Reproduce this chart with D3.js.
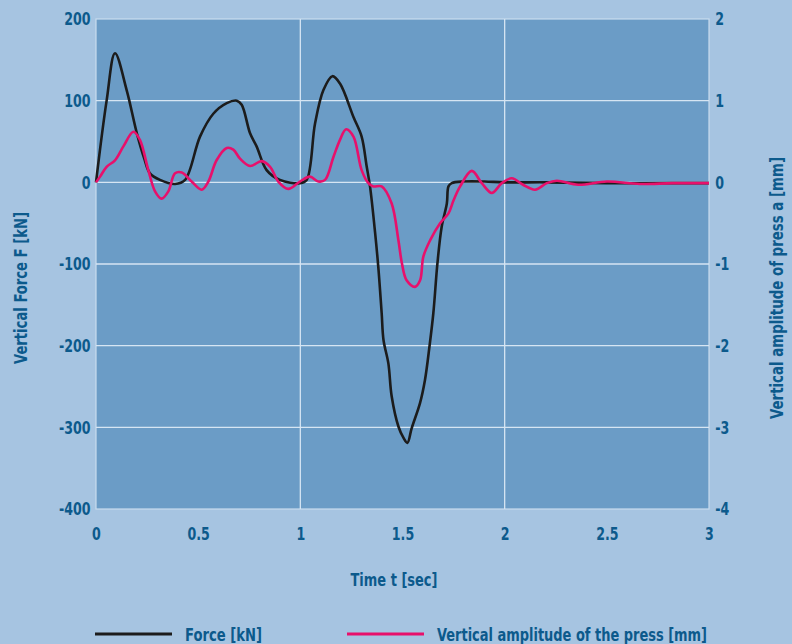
<!DOCTYPE html>
<html>
<head>
<meta charset="utf-8">
<script src="https://cdn.jsdelivr.net/npm/d3@7"></script>
<style>
  body { margin: 0; background: #a6c4e1; }
  svg { display: block; }
  text { font-family: 'Liberation Sans Narrow', 'DejaVu Sans Condensed', sans-serif; font-weight: bold; fill: #0c5a8c; }
</style>
</head>
<body>
<div id="container"></div>
<script>
// time in seconds, force in kN
const forceTime = [0, 0.052, 0.093, 0.15, 0.2, 0.235, 0.264, 0.313, 0.387, 0.436, 0.509, 0.574, 0.64, 0.689, 0.713, 0.754, 0.786, 0.835, 0.9, 0.998, 1.031, 1.072, 1.113, 1.157, 1.194, 1.26, 1.3, 1.325, 1.341, 1.366, 1.382, 1.398, 1.407, 1.431, 1.447, 1.48, 1.505, 1.524, 1.545, 1.586, 1.61, 1.632, 1.651, 1.671, 1.692, 1.717, 1.725, 1.741, 1.8, 1.9, 2.0, 2.2, 2.5, 2.8, 3.0];
const forceValues = [0, 100, 158, 113, 60, 30, 11, 3, -2, 3, 56, 84, 97, 100, 95, 60, 44, 15, 3, -1, 3, 72, 113, 130, 121, 80, 56, 19, -5, -62, -105, -160, -193, -222, -262, -299, -313, -319, -301, -270, -242, -201, -160, -99, -54, -26, -5, -1, 1, 1, 0, 0, -1, -1, -1];

// time in seconds, amplitude in mm
const ampTime = [0, 0.02, 0.052, 0.093, 0.134, 0.183, 0.215, 0.256, 0.289, 0.321, 0.354, 0.387, 0.42, 0.468, 0.517, 0.55, 0.59, 0.64, 0.672, 0.705, 0.754, 0.811, 0.852, 0.892, 0.941, 0.998, 1.047, 1.088, 1.121, 1.162, 1.194, 1.224, 1.26, 1.3, 1.333, 1.357, 1.398, 1.447, 1.48, 1.497, 1.52, 1.561, 1.586, 1.602, 1.635, 1.684, 1.725, 1.75, 1.782, 1.839, 1.888, 1.937, 1.986, 2.035, 2.09, 2.149, 2.206, 2.255, 2.36, 2.5, 2.662, 2.82, 3.0];
const ampValues = [0, 0.07, 0.19, 0.27, 0.44, 0.62, 0.52, 0.15, -0.11, -0.2, -0.11, 0.11, 0.12, 0.01, -0.09, 0.01, 0.27, 0.42, 0.4, 0.29, 0.2, 0.26, 0.19, 0.01, -0.08, 0.01, 0.07, 0.01, 0.03, 0.31, 0.52, 0.65, 0.56, 0.15, -0.01, -0.05, -0.05, -0.26, -0.71, -0.99, -1.2, -1.28, -1.2, -0.91, -0.71, -0.5, -0.38, -0.22, -0.05, 0.14, -0.01, -0.13, -0.01, 0.05, -0.03, -0.09, -0.01, 0.02, -0.03, 0.01, -0.02, -0.01, -0.01];

const timeTicks = [0, 0.5, 1, 1.5, 2, 2.5, 3];
const forceTicks = [200, 100, 0, -100, -200, -300, -400];
const ampTicks = [2, 1, 0, -1, -2, -3, -4];
const timeGrid = [1, 2];

const legendLabels = ['Force [kN]', 'Vertical amplitude of the press [mm]'];
const lineColours = ['#1c1c1c', '#e8106b'];

const W = 792, H = 644;
const margin = { top: 19, right: 83, bottom: 135, left: 96 };
const width = W - margin.left - margin.right;
const height = H - margin.top - margin.bottom;

const x = d3.scaleLinear().domain([0, 3]).range([0, width]);
const yForce = d3.scaleLinear().domain([-400, 200]).range([height, 0]);
const yAmp = d3.scaleLinear().domain([-4, 2]).range([height, 0]);

const svg = d3.select('#container').append('svg')
  .attr('width', W)
  .attr('height', H);

const g = svg.append('g')
  .attr('transform', `translate(${margin.left}, ${margin.top})`);

g.append('rect')
  .attr('width', width)
  .attr('height', height)
  .attr('fill', '#6b9cc6')
  .attr('stroke', '#c9dcee')
  .attr('stroke-width', 1.2);

// grid
g.append('g').selectAll('line')
  .data(forceTicks.slice(1, -1)).enter()
  .append('line')
  .attr('x1', 0).attr('x2', width)
  .attr('y1', (d) => yForce(d)).attr('y2', (d) => yForce(d))
  .attr('stroke', '#d6e5f3')
  .attr('stroke-width', 1.3);

g.append('g').selectAll('line')
  .data(timeGrid).enter()
  .append('line')
  .attr('y1', 0).attr('y2', height)
  .attr('x1', (d) => x(d)).attr('x2', (d) => x(d))
  .attr('stroke', '#d6e5f3')
  .attr('stroke-width', 1.3);

// axes: no domain, no tick marks, narrow bold labels
const styleAxis = (sel) => {
  sel.select('.domain').remove();
  sel.selectAll('.tick line').remove();
  sel.selectAll('.tick text')
    .attr('fill', '#0c5a8c')
    .attr('transform', 'scale(0.78, 1)')
    .style('font-family', "'Liberation Sans Narrow', 'DejaVu Sans Condensed', sans-serif")
    .style('font-weight', 'bold')
    .style('font-size', '18px');
};

g.append('g')
  .attr('transform', `translate(0, ${height})`)
  .call(d3.axisBottom(x).tickValues(timeTicks).tickSize(0).tickPadding(18).tickFormat((d) => String(d)))
  .call(styleAxis);

g.append('g')
  .call(d3.axisLeft(yForce).tickValues(forceTicks).tickSize(0).tickPadding(7).tickFormat((d) => String(d)))
  .call(styleAxis);

g.append('g')
  .attr('transform', `translate(${width}, 0)`)
  .call(d3.axisRight(yAmp).tickValues(ampTicks).tickSize(0).tickPadding(8).tickFormat((d) => String(d)))
  .call(styleAxis);

// lines
const forceLine = d3.line()
  .x((d, i) => x(forceTime[i]))
  .y((d) => yForce(d))
  .curve(d3.curveCatmullRom.alpha(0.5));

const ampLine = d3.line()
  .x((d, i) => x(ampTime[i]))
  .y((d) => yAmp(d))
  .curve(d3.curveCatmullRom.alpha(0.5));

g.append('path')
  .attr('d', forceLine(forceValues))
  .attr('fill', 'none')
  .attr('stroke', lineColours[0])
  .attr('stroke-width', 2.6)
  .attr('stroke-linejoin', 'round');

g.append('path')
  .attr('d', ampLine(ampValues))
  .attr('fill', 'none')
  .attr('stroke', lineColours[1])
  .attr('stroke-width', 2.6)
  .attr('stroke-linejoin', 'round');

// axis titles
svg.append('text')
  .attr('x', 394)
  .attr('y', 586)
  .attr('text-anchor', 'middle')
  .attr('textLength', 87)
  .attr('lengthAdjust', 'spacingAndGlyphs')
  .style('font-size', '17px')
  .text('Time t [sec]');

svg.append('text')
  .attr('transform', 'translate(27, 288) rotate(-90)')
  .attr('text-anchor', 'middle')
  .attr('textLength', 152)
  .attr('lengthAdjust', 'spacingAndGlyphs')
  .style('font-size', '17px')
  .text('Vertical Force F [kN]');

svg.append('text')
  .attr('transform', 'translate(783, 288) rotate(-90)')
  .attr('text-anchor', 'middle')
  .attr('textLength', 262)
  .attr('lengthAdjust', 'spacingAndGlyphs')
  .style('font-size', '17px')
  .text('Vertical amplitude of press a [mm]');

// legend
const legendX = [95, 347];
const legendLength = [77, 270];
legendLabels.forEach((label, i) => {
  svg.append('line')
    .attr('x1', legendX[i]).attr('x2', legendX[i] + 77)
    .attr('y1', 634).attr('y2', 634)
    .attr('stroke', lineColours[i])
    .attr('stroke-width', 3);
  svg.append('text')
    .attr('x', legendX[i] + 90)
    .attr('y', 641)
    .attr('textLength', legendLength[i])
    .attr('lengthAdjust', 'spacingAndGlyphs')
    .style('font-size', '17px')
    .text(label);
});
</script>
</body>
</html>
